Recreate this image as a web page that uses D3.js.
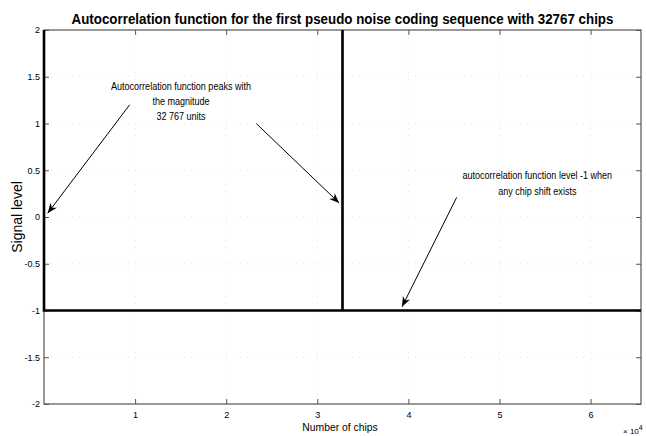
<!DOCTYPE html>
<html>
<head>
<meta charset="utf-8">
<script src="https://cdn.jsdelivr.net/npm/d3@7"></script>
<style>
  html, body { margin: 0; padding: 0; background: #fff; }
  svg { display: block; }
  text { font-family: "Liberation Sans Narrow", "Arial Narrow", "Liberation Sans", Arial, sans-serif; fill: #000; }
</style>
</head>
<body>
<svg id="chart" width="646" height="436"></svg>
<script>
// Autocorrelation of a 32767-chip PN sequence over two periods:
// peaks of 32767 at zero shift and at one full period, -1 everywhere else.
const chips  = [0, 1, 32766, 32767, 32768, 65534];
const levels = [32767, -1, -1, 32767, -1, -1];

const xTicks = [10000, 20000, 30000, 40000, 50000, 60000];
const xTickLabels = ["1", "2", "3", "4", "5", "6"];
const yTicks = [2, 1.5, 1, 0.5, 0, -0.5, -1, -1.5, -2];
const yTickLabels = ["2", "1.5", "1", "0.5", "0", "-0.5", "-1", "-1.5", "-2"];

const titleText = "Autocorrelation function for the first pseudo noise coding sequence with 32767 chips";
const xLabel = "Number of chips";
const yLabel = "Signal level";

const notePeakLines = ["Autocorrelation function peaks with", "the magnitude", "32 767 units"];
const noteFloorLines = ["autocorrelation function level -1 when", "any chip shift exists"];

const svg = d3.select("#chart");
const plot = { left: 44, right: 641, top: 30, bottom: 404 };

const x = d3.scaleLinear().domain([0, 65534]).range([plot.left, plot.right]);
const y = d3.scaleLinear().domain([-2, 2]).range([plot.bottom, plot.top]);

// squeeze a text element horizontally to mimic a narrow typeface
function condense(sel, factor) {
  sel.each(function () {
    const w = this.getComputedTextLength();
    d3.select(this).attr("textLength", w * factor).attr("lengthAdjust", "spacingAndGlyphs");
  });
}

// faint dotted grid
const grid = svg.append("g");
grid.selectAll("line.gx").data(xTicks).join("line")
  .attr("x1", d => x(d)).attr("x2", d => x(d))
  .attr("y1", plot.top).attr("y2", plot.bottom)
  .attr("stroke", "#e4e4e4").attr("stroke-width", 1).attr("stroke-dasharray", "1,6");
grid.selectAll("line.gy").data(yTicks.slice(1, -1)).join("line")
  .attr("x1", plot.left).attr("x2", plot.right)
  .attr("y1", d => y(d)).attr("y2", d => y(d))
  .attr("stroke", "#e4e4e4").attr("stroke-width", 1).attr("stroke-dasharray", "1,6");

// axes box with inward ticks on all sides
const axisColor = "#555";
const tickLen = 5;
const bottomAxis = d3.axisBottom(x).tickValues(xTicks).tickSize(-tickLen).tickPadding(8)
  .tickFormat((d, i) => xTickLabels[i]);
const topAxis = d3.axisTop(x).tickValues(xTicks).tickSize(-tickLen).tickFormat("");
const leftAxis = d3.axisLeft(y).tickValues(yTicks).tickSize(-tickLen).tickPadding(4)
  .tickFormat((d, i) => yTickLabels[i]);
const rightAxis = d3.axisRight(y).tickValues(yTicks).tickSize(-tickLen).tickFormat("");

function styleAxis(g) {
  g.select(".domain").remove();
  g.selectAll(".tick line").attr("stroke", axisColor);
  g.selectAll(".tick text").attr("font-size", 9)
    .attr("font-family", "'Liberation Sans', Arial, sans-serif").attr("fill", "#000");
}
svg.append("g").attr("transform", `translate(0,${plot.bottom})`).call(bottomAxis).call(styleAxis);
svg.append("g").attr("transform", `translate(0,${plot.top})`).call(topAxis).call(styleAxis);
svg.append("g").attr("transform", `translate(${plot.left},0)`).call(leftAxis).call(styleAxis);
svg.append("g").attr("transform", `translate(${plot.right},0)`).call(rightAxis).call(styleAxis);

svg.append("rect")
  .attr("x", plot.left).attr("y", plot.top)
  .attr("width", plot.right - plot.left).attr("height", plot.bottom - plot.top)
  .attr("fill", "none").attr("stroke", axisColor).attr("stroke-width", 1.2);

// the autocorrelation trace, clipped to the axes
svg.append("clipPath").attr("id", "plotClip").append("rect")
  .attr("x", plot.left - 2).attr("y", plot.top)
  .attr("width", plot.right - plot.left + 2).attr("height", plot.bottom - plot.top);

const line = d3.line().x((d, i) => x(chips[i])).y(d => y(d));
svg.append("path")
  .attr("clip-path", "url(#plotClip)")
  .attr("d", line(levels))
  .attr("fill", "none").attr("stroke", "#000").attr("stroke-width", 2.6)
  .attr("stroke-linejoin", "miter");

// arrowhead marker
svg.append("defs").append("marker")
  .attr("id", "arrowHead").attr("viewBox", "0 0 10 10")
  .attr("refX", 10).attr("refY", 5)
  .attr("markerWidth", 10).attr("markerHeight", 10)
  .attr("markerUnits", "userSpaceOnUse")
  .attr("orient", "auto")
  .append("path").attr("d", "M0,1 L10,5 L0,9 L3,5 Z").attr("fill", "#000");

function arrow(x1, y1, x2, y2) {
  svg.append("line")
    .attr("x1", x(x1)).attr("y1", y(y1)).attr("x2", x(x2)).attr("y2", y(y2))
    .attr("stroke", "#000").attr("stroke-width", 1)
    .attr("marker-end", "url(#arrowHead)");
}

// annotation: peak magnitude
const peakNote = svg.append("g").attr("font-size", 10.5);
notePeakLines.forEach((t, i) => {
  peakNote.append("text").attr("text-anchor", "middle")
    .attr("x", x(15040)).attr("y", y(1.36) + i * 15).text(t);
});
condense(peakNote.selectAll("text"), 0.86);
arrow(9400, 1.2, 400, 0.04);
arrow(23300, 1.0, 32400, 0.15);

// annotation: floor level
const floorNote = svg.append("g").attr("font-size", 10.5);
noteFloorLines.forEach((t, i) => {
  floorNote.append("text").attr("text-anchor", "middle")
    .attr("x", x(54150)).attr("y", y(0.41) + i * 16.5).text(t);
});
condense(floorNote.selectAll("text"), 0.86);
arrow(45300, 0.21, 39300, -0.96);

// title and axis labels
const title = svg.append("text")
  .attr("x", (plot.left + plot.right) / 2).attr("y", 23.5)
  .attr("text-anchor", "middle").attr("font-size", 14.5).attr("font-weight", "bold")
  .text(titleText);
condense(title, 0.92);

const xl = svg.append("text")
  .attr("x", 340).attr("y", 431)
  .attr("text-anchor", "middle").attr("font-size", 11)
  .text(xLabel);
condense(xl, 0.94);

svg.append("text")
  .attr("transform", `translate(22,${(plot.top + plot.bottom) / 2}) rotate(-90)`)
  .attr("text-anchor", "middle").attr("font-size", 14)
  .attr("font-family", "'Liberation Sans', Arial, sans-serif")
  .text(yLabel);

const exp = svg.append("text").attr("x", 623).attr("y", 434).attr("font-size", 8)
  .attr("font-family", "'Liberation Sans', Arial, sans-serif");
exp.append("tspan").text("\u00d7 10");
exp.append("tspan").attr("dy", -4).attr("font-size", 7).text("4");
</script>
</body>
</html>
